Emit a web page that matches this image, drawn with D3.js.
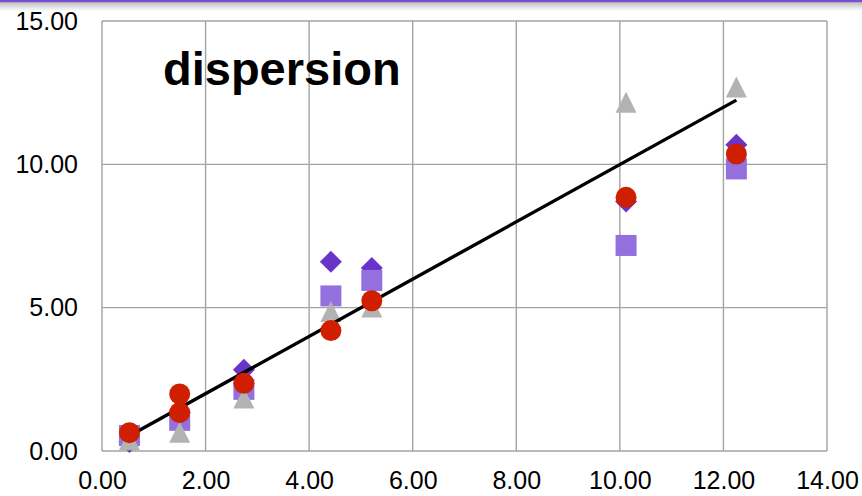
<!DOCTYPE html>
<html>
<head>
<meta charset="utf-8">
<script src="https://cdn.jsdelivr.net/npm/d3@7"></script>
<style>
  html, body { margin: 0; padding: 0; background: #fff; }
  svg { display: block; }
  text { font-family: "Liberation Sans", Arial, Helvetica, sans-serif; fill: #000; }
</style>
</head>
<body>
<svg id="chart" width="862" height="496"></svg>
<script>
// Shared x positions of the measurement groups
const xValues = [0.53, 1.5, 2.74, 4.42, 5.21, 10.12, 12.25];

// Series values (one per x position)
const diamondValues  = [0.31, 1.34, 2.83, 6.60, 6.38, 8.70, 10.68];
const squareValues   = [0.54, 1.07, 2.15, 5.41, 5.95, 7.17, 9.84];
const triangleValues = [0.39, 0.65, 1.85, 4.87, 5.02, 12.17, 12.70];

// Circle series has two readings at x = 1.5
const circleX      = [0.53, 1.5, 1.5, 2.74, 4.42, 5.21, 10.12, 12.25];
const circleValues = [0.64, 1.99, 1.34, 2.36, 4.20, 5.24, 8.85, 10.36];

// Reference line
const lineX = [0.53, 12.25];
const lineY = [0.53, 12.24];

// Axis ticks
const xTicks = [0, 2, 4, 6, 8, 10, 12, 14];
const yTicks = [0, 5, 10, 15];

const title = "dispersion";

const svg = d3.select("#chart");
const plot = { left: 102, right: 827, top: 21, bottom: 451 };

const x = d3.scaleLinear().domain([0, 14]).range([plot.left, plot.right]);
const y = d3.scaleLinear().domain([0, 15]).range([plot.bottom, plot.top]);

// Header bar with soft shadow
const defs = svg.append("defs");
const shade = defs.append("linearGradient").attr("id", "shade")
  .attr("x1", 0).attr("y1", 0).attr("x2", 0).attr("y2", 1);
shade.append("stop").attr("offset", "0%").attr("stop-color", "#bdbdbd");
shade.append("stop").attr("offset", "100%").attr("stop-color", "#ffffff");
svg.append("rect").attr("x", 0).attr("y", 2).attr("width", 862).attr("height", 9)
  .attr("fill", "url(#shade)");
svg.append("rect").attr("x", 0).attr("y", 0).attr("width", 862).attr("height", 2.2)
  .attr("fill", "#7b4fd3");

// Gridlines
const gridColor = "#a3a3a3";
svg.append("g").selectAll("line").data(xTicks).join("line")
  .attr("x1", d => x(d)).attr("x2", d => x(d))
  .attr("y1", plot.top).attr("y2", plot.bottom)
  .attr("stroke", gridColor).attr("stroke-width", 1.4);
svg.append("g").selectAll("line").data(yTicks).join("line")
  .attr("x1", plot.left).attr("x2", plot.right)
  .attr("y1", d => y(d)).attr("y2", d => y(d))
  .attr("stroke", gridColor).attr("stroke-width", 1.4);

// Tick labels via d3 axes
const fmt = d3.format(".2f");
const xAxis = svg.append("g")
  .attr("transform", `translate(0,${plot.bottom})`)
  .call(d3.axisBottom(x).tickValues(xTicks).tickFormat(fmt).tickSize(0).tickPadding(20));
const yAxis = svg.append("g")
  .attr("transform", `translate(${plot.left},0)`)
  .call(d3.axisLeft(y).tickValues(yTicks).tickFormat(fmt).tickSize(0).tickPadding(24));
[xAxis, yAxis].forEach(a => {
  a.select(".domain").remove();
  a.selectAll("text").attr("font-size", 25).attr("fill", "#000")
    .attr("font-family", "'Liberation Sans', Arial, sans-serif");
});
xAxis.selectAll("text").attr("dy", "0.72em");

// Markers share one box size
const S = 21;
const markers = svg.append("g");

// Diamonds
markers.append("g").selectAll("path").data(xValues.map((d, i) => [d, diamondValues[i]])).join("path")
  .attr("transform", d => `translate(${x(d[0])},${y(d[1])})`)
  .attr("d", () => {
    const h = S / 2 + 0.5;
    return `M0,${-h}L${h},0L0,${h}L${-h},0Z`;
  })
  .attr("fill", "#6935c9");

// Squares
markers.append("g").selectAll("rect").data(xValues.map((d, i) => [d, squareValues[i]])).join("rect")
  .attr("x", d => x(d[0]) - S / 2).attr("y", d => y(d[1]) - S / 2)
  .attr("width", S).attr("height", S)
  .attr("fill", "#9470de");

// Triangles
markers.append("g").selectAll("path").data(xValues.map((d, i) => [d, triangleValues[i]])).join("path")
  .attr("transform", d => `translate(${x(d[0])},${y(d[1])})`)
  .attr("d", () => {
    const h = S / 2;
    return `M0,${-h}L${h},${h}L${-h},${h}Z`;
  })
  .attr("fill", "#b3b3b3");

// Reference line
svg.append("path")
  .datum(lineX.map((d, i) => [d, lineY[i]]))
  .attr("d", d3.line().x(d => x(d[0])).y(d => y(d[1])))
  .attr("stroke", "#000").attr("stroke-width", 3.4).attr("fill", "none");

// Circles, drawn on top of everything
svg.append("g").selectAll("circle").data(circleX.map((d, i) => [d, circleValues[i]])).join("circle")
  .attr("cx", d => x(d[0])).attr("cy", d => y(d[1]))
  .attr("r", S / 2)
  .attr("fill", "#d01f00");

// Title
svg.append("text")
  .attr("x", 163).attr("y", 85)
  .attr("font-size", 47).attr("font-weight", "bold")
  .text(title);
</script>
</body>
</html>
